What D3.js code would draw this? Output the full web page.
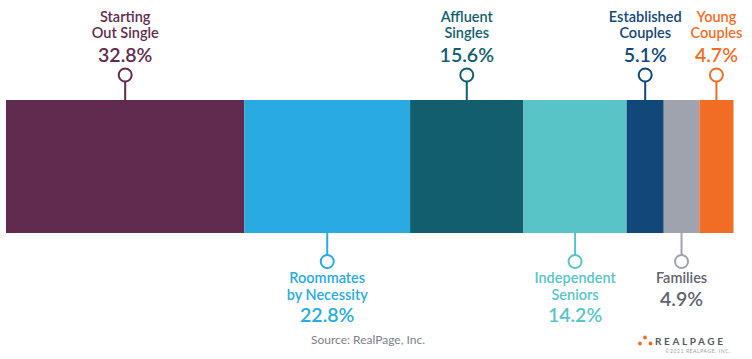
<!DOCTYPE html>
<html>
<head>
<meta charset="utf-8">
<script src="https://cdn.jsdelivr.net/npm/d3@7"></script>
<style>
  html, body { margin: 0; padding: 0; background: #fff; }
  svg { display: block; }
</style>
</head>
<body>
<svg id="chart" width="752" height="359"></svg>
<script>
const categories = ["Starting Out Single", "Roommates by Necessity", "Affluent Singles", "Independent Seniors", "Established Couples", "Families", "Young Couples"];
const labelLines = [["Starting", "Out Single"], ["Roommates", "by Necessity"], ["Affluent", "Singles"], ["Independent", "Seniors"], ["Established", "Couples"], ["Families"], ["Young", "Couples"]];
const values = [32.8, 22.8, 15.6, 14.2, 5.1, 4.9, 4.7];
const labelSide = ["top", "bottom", "top", "bottom", "top", "bottom", "top"];
const barColors = ["#612b4f", "#29abe2", "#135e6e", "#59c4c7", "#12477a", "#9ea3ae", "#f26d24"];
const textColors = ["#612b4f", "#29abe2", "#135e6e", "#59c4c7", "#12477a", "#5f6470", "#f26d24"];
const sourceText = "Source: RealPage, Inc.";

const svg = d3.select("#chart");
const font = "Lato, 'Open Sans', sans-serif";

const total = d3.sum(values);
const x = d3.scaleLinear().domain([0, total]).range([6, 733.5]);
const barTop = 100, barBottom = 233;

let cum = 0;
const data = values.map((v, i) => {
  const d = { i, v, x0: cum, x1: cum + v, lines: labelLines[i], side: labelSide[i], name: categories[i] };
  cum += v;
  return d;
});

svg.append("g").selectAll("rect").data(data).join("rect")
  .attr("x", d => x(d.x0))
  .attr("y", barTop)
  .attr("width", d => x(d.x1) - x(d.x0))
  .attr("height", barBottom - barTop)
  .attr("fill", d => barColors[d.i]);

const r = 6.5;
const lbl = svg.append("g").selectAll("g").data(data).join("g")
  .attr("transform", d => `translate(${(x(d.x0) + x(d.x1)) / 2},0)`);

lbl.append("line")
  .attr("x1", 0).attr("x2", 0)
  .attr("y1", d => d.side === "top" ? 75 + r : barBottom)
  .attr("y2", d => d.side === "top" ? barTop : 261.5 - r)
  .attr("stroke", d => barColors[d.i])
  .attr("stroke-width", 2);

lbl.append("circle")
  .attr("cx", 0)
  .attr("cy", d => d.side === "top" ? 75 : 261.5)
  .attr("r", r)
  .attr("fill", "#fff")
  .attr("stroke", d => barColors[d.i])
  .attr("stroke-width", 2);

lbl.each(function(d) {
  const g = d3.select(this);
  const n = d.lines.length;
  let baselines, valueBase;
  if (d.side === "top") {
    valueBase = 62;
    baselines = d.lines.map((_, k) => 38 - (n - 1 - k) * 16);
  } else {
    baselines = d.lines.map((_, k) => 283 + k * 16.5);
    valueBase = baselines[n - 1] + 22.5;
  }
  d.lines.forEach((t, k) => {
    g.append("text")
      .attr("x", 0).attr("y", baselines[k])
      .attr("text-anchor", "middle")
      .attr("font-family", font)
      .attr("font-weight", 600)
      .attr("font-size", 14.5)
      .attr("fill", textColors[d.i])
      .text(t);
  });
  g.append("text")
    .attr("x", 0).attr("y", valueBase)
    .attr("text-anchor", "middle")
    .attr("font-family", font)
    .attr("font-weight", 600)
    .attr("font-size", 19.5)
    .attr("fill", textColors[d.i])
    .text(d3.format(".1f")(d.v) + "%");
});

svg.append("text")
  .attr("x", 368).attr("y", 344)
  .attr("text-anchor", "middle")
  .attr("font-family", font)
  .attr("font-size", 12)
  .attr("fill", "#7a7f88")
  .text(sourceText);

const logo = svg.append("g");
[[645, 337.5], [640, 343.5], [650.5, 343.5]].forEach(p => {
  logo.append("circle").attr("cx", p[0]).attr("cy", p[1]).attr("r", 1.9).attr("fill", "#f26d24");
});
logo.append("text")
  .attr("x", 655).attr("y", 344.5)
  .attr("font-family", font)
  .attr("font-weight", 700)
  .attr("font-size", 10)
  .attr("letter-spacing", 2.6)
  .attr("fill", "#55585e")
  .text("REALPAGE");
logo.append("text")
  .attr("x", 731).attr("y", 352.5)
  .attr("text-anchor", "end")
  .attr("font-family", font)
  .attr("font-size", 5)
  .attr("letter-spacing", 0.6)
  .attr("fill", "#9a9ea5")
  .text("©2021 REALPAGE, INC.");
</script>
</body>
</html>
